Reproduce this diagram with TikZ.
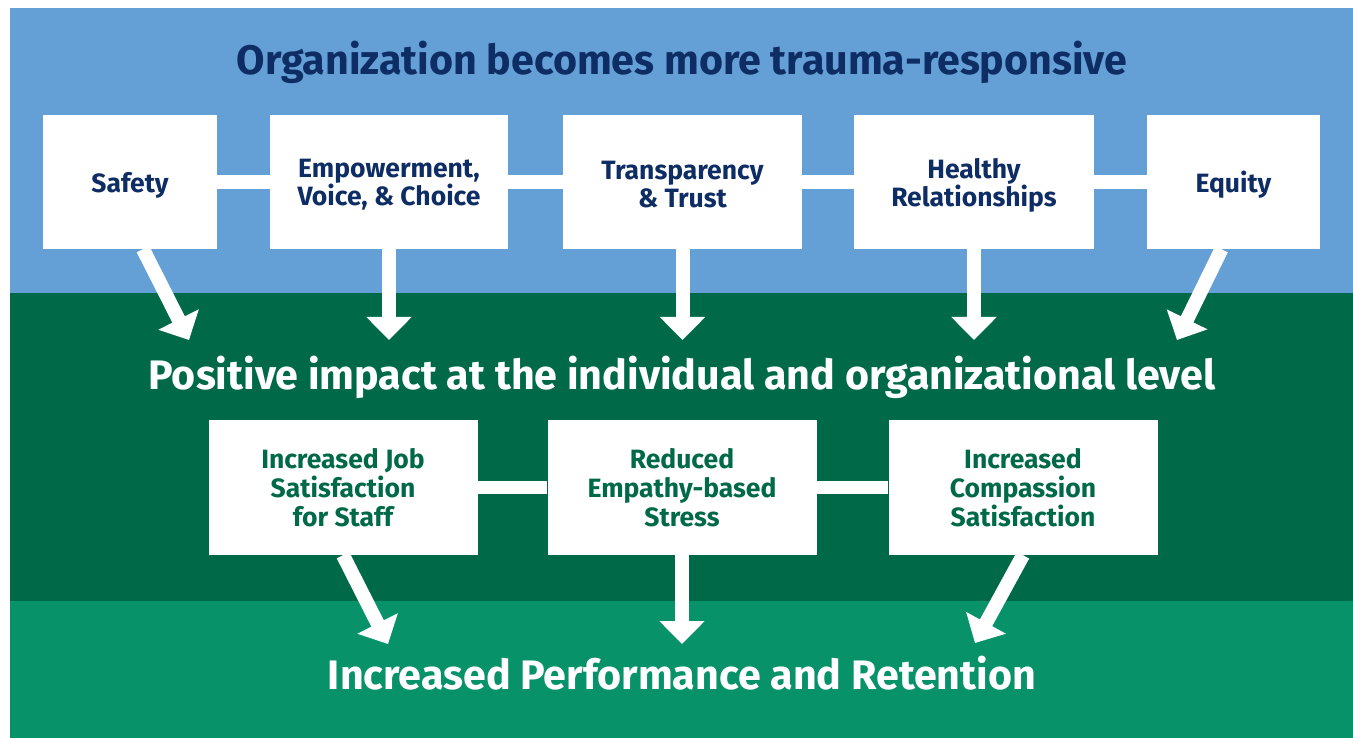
\documentclass[tikz,border=0pt]{standalone}
\usepackage{fontspec}
\setmainfont{Fira Sans}
\usetikzlibrary{arrows.meta}
\definecolor{skyband}{RGB}{100,160,214}
\definecolor{forestband}{RGB}{0,106,72}
\definecolor{meadowband}{RGB}{8,146,106}
\definecolor{navytext}{RGB}{14,45,100}
\tikzset{
  topbox/.style={fill=white, minimum height=134pt, align=center,
    text=navytext, font=\fontsize{26.5}{28}\selectfont\bfseries, inner sep=0pt},
  lowbox/.style={fill=white, minimum width=269pt, minimum height=135pt, align=center,
    text=forestband, font=\fontsize{26.5}{29}\selectfont\bfseries, inner sep=0pt},
  headline/.style={font=\fontsize{41.2}{48}\selectfont\bfseries, anchor=base, inner sep=0pt},
  link/.style={draw=white, line width=13.5pt},
  flow/.style={draw=white, line width=14pt, -{Triangle[length=23pt,width=44pt]}}
}
\begin{document}
\begin{tikzpicture}[x=1pt,y=-1pt]
\useasboundingbox (0,0) rectangle (1353,738);
% background bands
\fill[white] (0,0) rectangle (1353,738);
\fill[skyband] (10,8) rectangle (1353,293);
\fill[forestband] (10,293) rectangle (1353,601);
\fill[meadowband] (10,601) rectangle (1353,738);

% headings
\node[headline, text=navytext] (orgtitle) at (682,75) {Organization becomes more trauma-responsive};
\node[headline, text=white] (impact) at (682,389) {Positive impact at the individual and organizational level};
\node[headline, text=white] (result) at (682,689) {Increased Performance and Retention};

% principle boxes
\node[topbox, minimum width=174pt] (safety) at (130,182) {};
\node[topbox, minimum width=238pt] (empower) at (389,182) {};
\node[topbox, minimum width=239pt] (trust) at (682.5,182) {};
\node[topbox, minimum width=240pt] (relate) at (974,182) {};
\node[topbox, minimum width=173pt] (equity) at (1233.5,182) {};

% principle labels, set a little below the box centres
\node[topbox, fill=none, minimum height=0pt] (safetytxt) at ([yshift=-3pt]safety.center) {Safety};
\node[topbox, fill=none, minimum height=0pt] (empowertxt) at ([yshift=-3pt]empower.center) {Empowerment,\\Voice, \& Choice};
\node[topbox, fill=none, minimum height=0pt] (trusttxt) at ([yshift=-3pt]trust.center) {Transparency\\\& Trust};
\node[topbox, fill=none, minimum height=0pt] (relatetxt) at ([yshift=-3pt]relate.center) {Healthy\\Relationships};
\node[topbox, fill=none, minimum height=0pt] (equitytxt) at ([yshift=-3pt]equity.center) {Equity};

\draw[link] (safety) -- (empower);
\draw[link] (empower) -- (trust);
\draw[link] (trust) -- (relate);
\draw[link] (relate) -- (equity);

% outcome boxes
\node[lowbox] (jobsat) at (343,487.5) {Increased Job\\Satisfaction\\for Staff};
\node[lowbox] (stress) at (682,487.5) {Reduced\\Empathy-based\\Stress};
\node[lowbox] (compass) at (1023,487.5) {Increased\\Compassion\\Satisfaction};

\draw[link] (jobsat) -- (stress);
\draw[link] (stress) -- (compass);

% arrow tips
\coordinate (t1) at (189,340);
\coordinate (t2) at (389,340);
\coordinate (t3) at (682.5,340);
\coordinate (t4) at (974,340);
\coordinate (t5) at (1177,340);
\coordinate (b1) at (388,644);
\coordinate (b2) at (682,644);
\coordinate (b3) at (975,643);

\draw[flow] ([xshift=13pt]safety.south) -- (t1);
\draw[flow] (empower.south) -- (t2);
\draw[flow] (trust.south) -- (t3);
\draw[flow] (relate.south) -- (t4);
\draw[flow] ([xshift=-12pt]equity.south) -- (t5);

\draw[flow] (jobsat.south) -- (b1);
\draw[flow] (stress.south) -- (b2);
\draw[flow] (compass.south) -- (b3);
\end{tikzpicture}
\end{document}
